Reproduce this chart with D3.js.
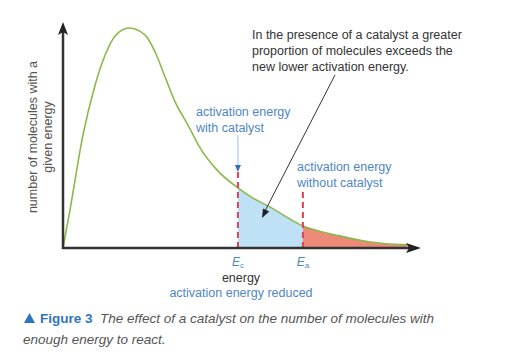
<!DOCTYPE html>
<html>
<head>
<meta charset="utf-8">
<script src="https://cdn.jsdelivr.net/npm/d3@7"></script>
<style>
  body { margin: 0; background: #fff; }
  svg { display: block; font-family: "Liberation Sans", Arial, sans-serif; }
</style>
</head>
<body>
<svg></svg>
<script>
// energy (0-100) vs relative number of molecules (peak = 100)
const energy = [0, 2, 5.6, 9, 11.8, 14.6, 18.5, 23, 25.8, 28.6, 31.4, 35, 38.4, 43.1, 49, 53.2, 58, 67.2, 77.6, 86, 96.4];
const molecules = [0, 17.7, 51.4, 74.1, 87.7, 96.4, 100, 96.8, 89.1, 77.7, 66.4, 55.9, 45.5, 35.5, 27.3, 22.7, 18.6, 10, 5.5, 2.7, 1.4];
const Ec = 49;    // activation energy with catalyst
const Ea = 67.2;  // activation energy without catalyst

const noteLines = ['In the presence of a catalyst a greater', 'proportion of molecules exceeds the', 'new lower activation energy.'];
const yLabel = ['number of molecules with a', 'given energy'];

const s = { width: 516, height: 352 };
const blue = '#4f86c6';

const svg = d3.select('svg')
    .attr('width', s.width)
    .attr('height', s.height);

const x = d3.scaleLinear().domain([0, 100]).range([63, 420]);
const y = d3.scaleLinear().domain([0, 100]).range([248, 28]);

const pts = energy.map((e, i) => ({ e: e, n: molecules[i] }));

const area = d3.area()
    .x(d => x(d.e))
    .y0(y(0))
    .y1(d => y(d.n))
    .curve(d3.curveMonotoneX);

const line = d3.line()
    .x(d => x(d.e))
    .y(d => y(d.n))
    .curve(d3.curveMonotoneX);

svg.append('path')
    .datum(pts.filter(d => d.e >= Ec && d.e <= Ea))
    .attr('d', area)
    .attr('fill', '#bfe1f6');

svg.append('path')
    .datum(pts.filter(d => d.e >= Ea))
    .attr('d', area)
    .attr('fill', '#ec8a78');

svg.append('path')
    .datum(pts)
    .attr('d', line)
    .attr('fill', 'none')
    .attr('stroke', '#8cb84a')
    .attr('stroke-width', 1.6);

// dashed markers
const nAt = e => molecules[energy.indexOf(e)];
svg.append('line')
    .attr('x1', x(Ec)).attr('x2', x(Ec))
    .attr('y1', y(nAt(Ec)) - 16).attr('y2', y(0))
    .attr('stroke', '#e0405a').attr('stroke-width', 2)
    .attr('stroke-dasharray', '6,4');
svg.append('line')
    .attr('x1', x(Ea)).attr('x2', x(Ea))
    .attr('y1', y(nAt(Ea)) - 34).attr('y2', y(0))
    .attr('stroke', '#e0405a').attr('stroke-width', 2)
    .attr('stroke-dasharray', '6,4');

// axes with arrowheads
svg.append('line')
    .attr('x1', x(0)).attr('x2', x(0))
    .attr('y1', y(0) + 1).attr('y2', 32)
    .attr('stroke', '#333').attr('stroke-width', 2.5);
svg.append('path')
    .attr('d', `M${x(0)},22 L${x(0) - 5},35 L${x(0)},32 L${x(0) + 5},35 Z`)
    .attr('fill', '#222');
svg.append('line')
    .attr('x1', x(0) - 1).attr('x2', 410)
    .attr('y1', y(0)).attr('y2', y(0))
    .attr('stroke', '#333').attr('stroke-width', 2.5);
svg.append('path')
    .attr('d', `M421,${y(0)} L406,${y(0) - 5} L409,${y(0)} L406,${y(0) + 5} Z`)
    .attr('fill', '#222');

// blue pointer to Ec
svg.append('line')
    .attr('x1', x(Ec)).attr('x2', x(Ec))
    .attr('y1', 135).attr('y2', 166)
    .attr('stroke', '#9cc0e4').attr('stroke-width', 1);
svg.append('path')
    .attr('d', `M${x(Ec)},172 L${x(Ec) - 3},165 L${x(Ec) + 3},165 Z`)
    .attr('fill', '#2f6fb5');

// note with black arrow
svg.append('line')
    .attr('x1', 335).attr('y1', 75)
    .attr('x2', 265).attr('y2', 211)
    .attr('stroke', '#333').attr('stroke-width', 1);
const ang = Math.atan2(218 - 75, 262 - 335);
const hx = 262, hy = 218;
const hp = [[hx, hy],
  [hx - 9 * Math.cos(ang) + 3.5 * Math.sin(ang), hy - 9 * Math.sin(ang) - 3.5 * Math.cos(ang)],
  [hx - 9 * Math.cos(ang) - 3.5 * Math.sin(ang), hy - 9 * Math.sin(ang) + 3.5 * Math.cos(ang)]];
svg.append('path')
    .attr('d', 'M' + hp.join('L') + 'Z')
    .attr('fill', '#222');

svg.append('g').selectAll('text')
  .data(noteLines)
  .join('text')
    .attr('x', 252)
    .attr('y', (d, i) => 39 + i * 16)
    .attr('font-size', 12.5)
    .attr('fill', '#333')
    .text(d => d);

const blueText = [
  { t: 'activation energy', x: 196, y: 116 },
  { t: 'with catalyst', x: 196, y: 132 },
  { t: 'activation energy', x: 297, y: 171 },
  { t: 'without catalyst', x: 297, y: 187 }
];
svg.append('g').selectAll('text')
  .data(blueText)
  .join('text')
    .attr('x', d => d.x)
    .attr('y', d => d.y)
    .attr('font-size', 12.5)
    .attr('fill', blue)
    .text(d => d.t);

// E labels
[[Ec, 'c'], [Ea, 'a']].forEach(([e, sub]) => {
  const t = svg.append('text')
      .attr('x', x(e))
      .attr('y', 266)
      .attr('text-anchor', 'middle')
      .attr('font-size', 12)
      .attr('fill', blue);
  t.append('tspan').attr('font-style', 'italic').text('E');
  t.append('tspan').attr('font-size', 8).attr('dy', 2).text(sub);
});

svg.append('text')
    .attr('x', 241).attr('y', 282)
    .attr('text-anchor', 'middle')
    .attr('font-size', 12.5)
    .attr('fill', '#333')
    .text('energy');
svg.append('text')
    .attr('x', 241).attr('y', 297)
    .attr('text-anchor', 'middle')
    .attr('font-size', 12.5)
    .attr('fill', blue)
    .text('activation energy reduced');

// y label
svg.append('g')
    .attr('transform', 'translate(37,137) rotate(-90)')
  .selectAll('text')
  .data(yLabel)
  .join('text')
    .attr('x', 0)
    .attr('y', (d, i) => i * 15)
    .attr('text-anchor', 'middle')
    .attr('font-size', 12.5)
    .attr('fill', '#555')
    .text(d => d);

// caption
svg.append('path')
    .attr('d', 'M24,323 L29.5,313 L35,323 Z')
    .attr('fill', '#2f74c0');
const cap = svg.append('text')
    .attr('x', 40).attr('y', 323)
    .attr('font-size', 13.5)
    .attr('fill', '#555');
cap.append('tspan')
    .attr('font-weight', 'bold')
    .attr('fill', '#2f74c0')
    .text('Figure 3');
cap.append('tspan')
    .attr('x', 100)
    .attr('font-style', 'italic')
    .text('The effect of a catalyst on the number of molecules with');
svg.append('text')
    .attr('x', 23).attr('y', 344)
    .attr('font-size', 13.5)
    .attr('font-style', 'italic')
    .attr('fill', '#555')
    .text('enough energy to react.');
</script>
</body>
</html>
